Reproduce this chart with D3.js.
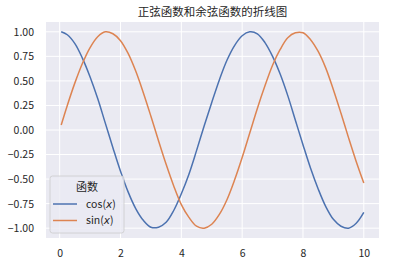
<!DOCTYPE html>
<html>
<head>
<meta charset="utf-8">
<script src="https://cdn.jsdelivr.net/npm/d3@7"></script>
<style>
  body { margin: 0; background: #fff; }
  text { font-family: "Noto Sans CJK SC", "DejaVu Sans", sans-serif; fill: #262626; }
</style>
</head>
<body>
<script>
// values
var xs = [0.05, 0.25, 0.5, 0.75, 1.0, 1.25, 1.5, 1.75, 2.0, 2.25, 2.5, 2.75, 3.0, 3.25, 3.5, 3.75,
  4.0, 4.25, 4.5, 4.75, 5.0, 5.25, 5.5, 5.75, 6.0, 6.25, 6.5, 6.75, 7.0, 7.25, 7.5, 7.75,
  8.0, 8.25, 8.5, 8.75, 9.0, 9.25, 9.5, 9.75, 10.0];
var cosVals = [1.00, 0.97, 0.88, 0.73, 0.54, 0.32, 0.07, -0.18, -0.42, -0.63, -0.80, -0.92, -0.99, -0.99, -0.94, -0.82,
  -0.65, -0.45, -0.21, 0.04, 0.28, 0.51, 0.71, 0.86, 0.96, 1.00, 0.98, 0.89, 0.75, 0.57, 0.35, 0.10,
  -0.15, -0.39, -0.60, -0.78, -0.91, -0.98, -1.00, -0.95, -0.84];
var sinVals = [0.05, 0.25, 0.48, 0.68, 0.84, 0.95, 1.00, 0.98, 0.91, 0.78, 0.60, 0.38, 0.14, -0.11, -0.35, -0.57,
  -0.76, -0.89, -0.98, -1.00, -0.96, -0.86, -0.71, -0.51, -0.28, -0.03, 0.22, 0.45, 0.66, 0.82, 0.94, 0.99,
  0.99, 0.92, 0.80, 0.63, 0.41, 0.17, -0.08, -0.32, -0.54];
var seriesNames = ['cos', 'sin'];
var seriesColors = ['#4c72b0', '#dd8452'];
var xTicks = [0, 2, 4, 6, 8, 10];
var yTicks = [-1, -0.75, -0.5, -0.25, 0, 0.25, 0.5, 0.75, 1];
var title = '正弦函数和余弦函数的折线图';
var legendTitle = '函数';

var W = 420, H = 260;
var plot = {left: 46, right: 379, top: 22, bottom: 238};

var svg = d3.select('body').append('svg')
  .attr('width', W)
  .attr('height', H);

var x = d3.scaleLinear().domain([-0.45, 10.5]).range([plot.left, plot.right]);
var y = d3.scaleLinear().domain([-1.1, 1.1]).range([plot.bottom, plot.top]);

svg.append('rect')
  .attr('x', plot.left).attr('y', plot.top)
  .attr('width', plot.right - plot.left).attr('height', plot.bottom - plot.top)
  .attr('fill', '#eaeaf2');

// grid
svg.append('g').selectAll('line').data(xTicks).enter().append('line')
  .attr('x1', d => x(d)).attr('x2', d => x(d))
  .attr('y1', plot.top).attr('y2', plot.bottom)
  .attr('stroke', '#fff').attr('stroke-width', 1);
svg.append('g').selectAll('line').data(yTicks).enter().append('line')
  .attr('y1', d => y(d)).attr('y2', d => y(d))
  .attr('x1', plot.left).attr('x2', plot.right)
  .attr('stroke', '#fff').attr('stroke-width', 1);

// axes (labels only, seaborn darkgrid has no ticks or spines)
var fmt = d => d3.format('.2f')(d).replace('-', '\u2212');
var xAxis = d3.axisBottom(x).tickValues(xTicks).tickSize(0).tickPadding(12);
var yAxis = d3.axisLeft(y).tickValues(yTicks).tickSize(0).tickPadding(12).tickFormat(fmt);

svg.append('g').attr('transform', 'translate(0,' + plot.bottom + ')').call(xAxis)
  .call(g => g.select('.domain').remove())
  .selectAll('text').style('font-family', null).attr('font-size', 10.5).attr('fill', '#262626');
svg.append('g').attr('transform', 'translate(' + plot.left + ',0)').call(yAxis)
  .call(g => g.select('.domain').remove())
  .selectAll('text').style('font-family', null).attr('font-size', 10.5).attr('fill', '#262626');

// lines
var line = d3.line().curve(d3.curveCatmullRom)
  .x((d, i) => x(xs[i]))
  .y(d => y(d));

[cosVals, sinVals].forEach((vals, i) => {
  svg.append('path')
    .attr('d', line(vals))
    .attr('fill', 'none')
    .attr('stroke', seriesColors[i])
    .attr('stroke-width', 1.5);
});

// title
svg.append('text')
  .text(title)
  .attr('x', (plot.left + plot.right) / 2)
  .attr('y', 16)
  .attr('text-anchor', 'middle')
  .attr('font-size', 11.5);

// legend
var lg = svg.append('g').attr('transform', 'translate(50,176)');
lg.append('rect')
  .attr('width', 74).attr('height', 57).attr('rx', 2.5)
  .attr('fill', '#eaeaf2').attr('fill-opacity', 0.8)
  .attr('stroke', '#cccccc').attr('stroke-width', 0.8);
lg.append('text')
  .text(legendTitle)
  .attr('x', 37).attr('y', 14.5)
  .attr('text-anchor', 'middle')
  .attr('font-size', 11);

seriesNames.forEach((name, i) => {
  var yy = 28 + i * 16.5;
  lg.append('line')
    .attr('x1', 3).attr('x2', 27)
    .attr('y1', yy).attr('y2', yy)
    .attr('stroke', seriesColors[i]).attr('stroke-width', 1.5);
  var t = lg.append('text')
    .attr('x', 36).attr('y', yy + 3.8)
    .attr('font-size', 10.5);
  t.append('tspan').text(name + '(');
  t.append('tspan').text('x').attr('font-style', 'italic').style('font-family', 'DejaVu Sans');
  t.append('tspan').text(')');
});
</script>
</body>
</html>
